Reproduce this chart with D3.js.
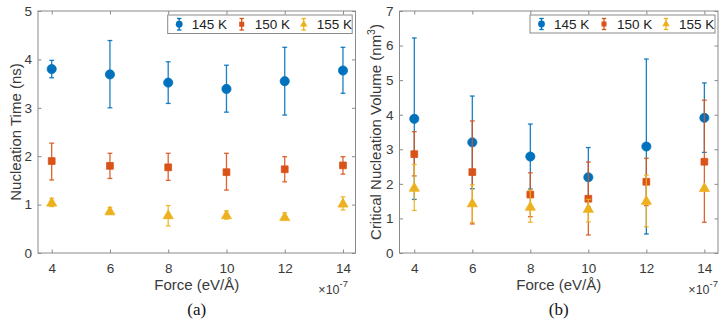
<!DOCTYPE html>
<html><head><meta charset="utf-8">
<script src="https://cdn.jsdelivr.net/npm/d3@7"></script>
<style>
body{margin:0;background:#fff;}
svg{display:block;}
text{font-family:"Liberation Sans",Arial,Helvetica,sans-serif;}
</style></head>
<body>
<svg id="c" width="725" height="328"></svg>
<script>
// ---------- data ----------
const forces = [4, 6, 8, 10, 12, 14];            // ×10^-7 eV/Å
const seriesLabels = ["145 K", "150 K", "155 K"];
const xTicks = [4, 6, 8, 10, 12, 14];
const timeTicks = [0, 1, 2, 3, 4, 5];
const volTicks = [0, 1, 2, 3, 4, 5, 6, 7];

// (a) nucleation time (ns)
const time145 = [3.80, 3.69, 3.52, 3.39, 3.55, 3.77];
const time145Low = [3.62, 3.00, 3.09, 2.91, 2.85, 3.30];
const time145High = [3.98, 4.39, 3.95, 3.88, 4.25, 4.25];
const time150 = [1.90, 1.80, 1.77, 1.67, 1.73, 1.81];
const time150Low = [1.51, 1.54, 1.50, 1.30, 1.47, 1.63];
const time150High = [2.27, 2.06, 2.06, 2.06, 1.99, 1.99];
const time155 = [1.05, 0.87, 0.79, 0.79, 0.75, 1.03];
const time155Low = [0.96, 0.80, 0.56, 0.70, 0.70, 0.89];
const time155High = [1.13, 0.94, 0.98, 0.87, 0.83, 1.16];

// (b) critical nucleation volume (nm^3)
const vol145 = [3.88, 3.20, 2.79, 2.19, 3.08, 3.91];
const vol145Low = [1.55, 1.86, 1.85, 1.33, 0.55, 2.91];
const vol145High = [6.22, 4.54, 3.73, 3.05, 5.61, 4.92];
const vol150 = [2.86, 2.34, 1.69, 1.57, 2.06, 2.64];
const vol150Low = [2.23, 0.84, 1.05, 0.52, 1.37, 0.89];
const vol150High = [3.51, 3.82, 2.32, 2.63, 2.74, 4.42];
const vol155 = [1.90, 1.45, 1.35, 1.29, 1.52, 1.89];
const vol155Low = [1.23, 0.88, 0.89, 0.90, 0.76, 1.85];
const vol155High = [2.56, 1.97, 1.82, 1.55, 2.25, 1.93];

// ---------- styling ----------
const colors = ["#0072BD", "#D95319", "#EDB120"];
const shapes = [d3.symbolCircle, d3.symbolSquare, d3.symbolTriangle];
const shapeSizes = [66, 46, 44];
const axisColor = "#8a8a8a";
const textColor = "#3a3a3a";

const svg = d3.select("#c");
svg.append("rect").attr("width", 725).attr("height", 328).attr("fill", "#fff");

const panels = [
  {
    left: 38, right: 355.5, top: 11, bottom: 253,
    xDom: [3.53, 14.43], yMax: 5, yTicks: timeTicks,
    series: [[time145, time145Low, time145High], [time150, time150Low, time150High], [time155, time155Low, time155High]],
    ylabel: ["Nucleation Time (ns)"], ylabelX: 16,
    legend: {x: 167.7, y: 15, w: 184.5, h: 18.5},
    expoRight: 348, caption: "(a)"
  },
  {
    left: 399.5, right: 718, top: 11, bottom: 253,
    xDom: [3.49, 14.47], yMax: 7, yTicks: volTicks,
    series: [[vol145, vol145Low, vol145High], [vol150, vol150Low, vol150High], [vol155, vol155Low, vol155High]],
    ylabel: ["Critical Nucleation Volume (nm", "3", ")"], ylabelX: 376,
    legend: {x: 530, y: 15, w: 185, h: 18},
    expoRight: 718, caption: "(b)"
  }
];

panels.forEach(p => {
  const g = svg.append("g");
  const x = d3.scaleLinear().domain(p.xDom).range([p.left, p.right]);
  const y = d3.scaleLinear().domain([0, p.yMax]).range([p.bottom, p.top]);
  const tl = 3.5;

  // box
  g.append("rect").attr("x", p.left).attr("y", p.top)
    .attr("width", p.right - p.left).attr("height", p.bottom - p.top)
    .attr("fill", "none").attr("stroke", axisColor).attr("stroke-width", 1);

  // axes with inward ticks, mirrored on top/right
  const fmt = d3.format("d");
  const xa = g.append("g").attr("transform", `translate(0,${p.bottom})`)
    .call(d3.axisBottom(x).tickValues(xTicks).tickFormat(fmt).tickSizeInner(-tl).tickSizeOuter(0).tickPadding(10));
  const xt = g.append("g").attr("transform", `translate(0,${p.top})`)
    .call(d3.axisTop(x).tickValues(xTicks).tickSizeInner(-tl).tickSizeOuter(0).tickFormat(""));
  const ya = g.append("g").attr("transform", `translate(${p.left},0)`)
    .call(d3.axisLeft(y).tickValues(p.yTicks).tickFormat(fmt).tickSizeInner(-tl).tickSizeOuter(0).tickPadding(6));
  const yr = g.append("g").attr("transform", `translate(${p.right},0)`)
    .call(d3.axisRight(y).tickValues(p.yTicks).tickSizeInner(-tl).tickSizeOuter(0).tickFormat(""));
  [xa, xt, ya, yr].forEach(a => {
    a.select(".domain").remove();
    a.selectAll("line").attr("stroke", axisColor);
    a.selectAll("text").attr("fill", textColor).style("font-size", "13.5px")
      .style("font-family", "'Liberation Sans',Arial,sans-serif");
  });

  // series: error bars then markers, in order
  p.series.forEach((s, si) => {
    const [mean, lo, hi] = s;
    const sg = g.append("g");
    const cap = 2.4;
    forces.forEach((f, i) => {
      const cx = x(f);
      sg.append("line").attr("x1", cx).attr("x2", cx).attr("y1", y(lo[i])).attr("y2", y(hi[i]))
        .attr("stroke", colors[si]).attr("stroke-width", 1.3).attr("stroke-opacity", 0.9);
      [lo[i], hi[i]].forEach(v => {
        sg.append("line").attr("x1", cx - cap).attr("x2", cx + cap).attr("y1", y(v)).attr("y2", y(v))
          .attr("stroke", colors[si]).attr("stroke-width", 1.3).attr("stroke-opacity", 0.9);
      });
    });
    sg.selectAll("path.m").data(forces).enter().append("path").attr("class", "m")
      .attr("d", d3.symbol().type(shapes[si]).size(shapeSizes[si]))
      .attr("transform", (f, i) => `translate(${x(f)},${y(mean[i]) + (si === 2 ? 1 : 0)})`)
      .attr("fill", colors[si]).attr("stroke", colors[si]).attr("stroke-width", 0.8);
  });

  // legend
  const L = p.legend;
  const lg = g.append("g");
  lg.append("rect").attr("x", L.x).attr("y", L.y).attr("width", L.w).attr("height", L.h)
    .attr("fill", "#fff").attr("stroke", axisColor).attr("stroke-width", 1);
  const iconOff = [11.5, 74, 136];
  const textOff = [24, 87, 149];
  seriesLabels.forEach((lab, i) => {
    const ix = L.x + iconOff[i], cy = L.y + L.h / 2;
    const top = L.y + 3.5, bot = L.y + L.h - 3.5;
    lg.append("line").attr("x1", ix).attr("x2", ix).attr("y1", top).attr("y2", bot)
      .attr("stroke", colors[i]).attr("stroke-width", 1.3);
    [top, bot].forEach(v => lg.append("line").attr("x1", ix - 2.2).attr("x2", ix + 2.2)
      .attr("y1", v).attr("y2", v).attr("stroke", colors[i]).attr("stroke-width", 1.3));
    lg.append("path").attr("d", d3.symbol().type(shapes[i]).size(shapeSizes[i] * 0.55))
      .attr("transform", `translate(${ix},${cy})`).attr("fill", colors[i]);
    lg.append("text").attr("x", L.x + textOff[i]).attr("y", cy + 5)
      .attr("fill", "#222").style("font-size", "13.5px").text(lab);
  });

  // x label
  const cxMid = (p.left + p.right) / 2;
  g.append("text").attr("x", cxMid).attr("y", 290).attr("text-anchor", "middle")
    .attr("fill", textColor).style("font-size", "15px").text("Force (eV/Å)");

  // exponent
  const ex = g.append("text").attr("x", p.expoRight).attr("y", 294).attr("text-anchor", "end")
    .attr("fill", textColor).style("font-size", "12.5px");
  ex.append("tspan").text("×10");
  ex.append("tspan").attr("dy", -7).style("font-size", "9.5px").text("-7");

  // y label
  const cyMid = (p.top + p.bottom) / 2;
  const ylg = g.append("g").attr("transform", `translate(${p.ylabelX},${cyMid}) rotate(-90)`);
  const yl = ylg.append("text").attr("x", 0).attr("y", 5)
    .attr("text-anchor", "middle").attr("fill", textColor).style("font-size", "15px");
  yl.append("tspan").text(p.ylabel[0]);
  if (p.ylabel.length > 1) {
    yl.append("tspan").attr("dy", -6).style("font-size", "10.5px").text(p.ylabel[1]);
    yl.append("tspan").attr("dy", 6).text(p.ylabel[2]);
  }

  // caption
  g.append("text").attr("x", cxMid).attr("y", 315).attr("text-anchor", "middle")
    .attr("fill", "#111").style("font-family", "'Liberation Serif','Times New Roman',serif")
    .style("font-size", "17px").text(p.caption);
});
</script>
</body></html>
